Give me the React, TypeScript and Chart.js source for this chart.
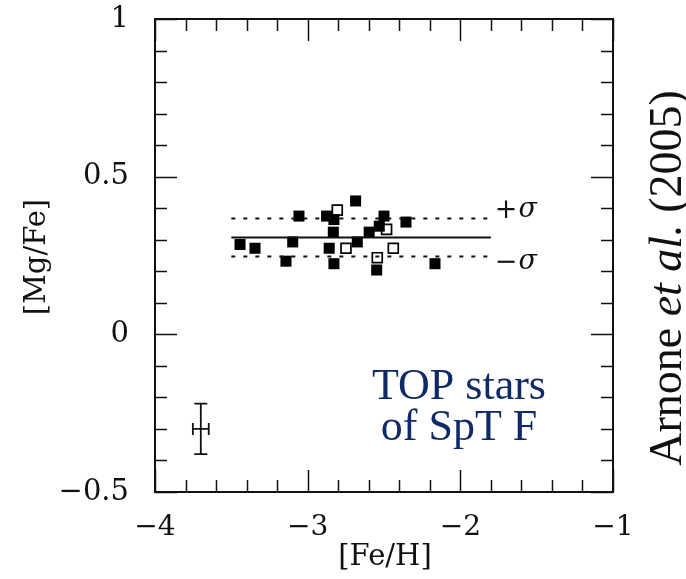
import React, { useEffect, useRef } from "react";
import { Chart, registerables } from "chart.js";

Chart.register(...registerables);

// Filled squares: TOP stars
const feHFilled = [-3.443, -3.345, -3.098, -3.142, -3.057, -2.876, -2.828, -2.832, -2.859, -2.828, -2.686, -2.675, -2.597, -2.531, -2.5, -2.548, -2.356, -2.166];
const mgFeFilled = [0.285, 0.273, 0.293, 0.232, 0.375, 0.375, 0.364, 0.324, 0.273, 0.224, 0.423, 0.293, 0.324, 0.343, 0.375, 0.204, 0.356, 0.224];
// Open squares
const feHOpen = [-2.806, -2.749, -2.483, -2.439, -2.544];
const mgFeOpen = [0.394, 0.273, 0.333, 0.273, 0.243];
// Mean and sigma lines
const fitRange = [-3.5, -1.8];
const meanMgFe = 0.307;
const sigmaMgFe = 0.06;
// Typical error bar
const errPoint = [-3.7, -0.3];
const errSize = [0.052, 0.08];
// Axis ticks
const xMajorTicks = [-4, -3, -2, -1];
const yMajorTicks = [-0.5, 0, 0.5, 1];
const xMinorStep = 0.2;
const yMinorStep = 0.1;
const sigmaLabelX = -1.8;

const SERIF = "'DejaVu Serif', serif";
const TIMES = "'Liberation Serif', serif";

const fmt = (v: number) => {
  const s = String(Math.abs(v));
  return v < 0 ? "\u2212" + s : s;
};

const framePlugin = {
  id: "frame",
  afterDatasetsDraw(chart: any) {
    const { ctx, chartArea: a, scales } = chart;
    const xs = scales.x;
    const ys = scales.y;
    ctx.save();
    ctx.strokeStyle = "#111";
    ctx.lineWidth = 2;
    ctx.strokeRect(a.left, a.top, a.right - a.left, a.bottom - a.top);
    ctx.lineWidth = 1.5;
    const major = 22;
    const minor = 12;
    for (let v = -4; v <= -1 + 1e-9; v += xMinorStep) {
      const isMajor = xMajorTicks.some((t) => Math.abs(t - v) < 1e-6);
      const len = isMajor ? major : minor;
      const px = Math.round(xs.getPixelForValue(v)) + 0.5;
      ctx.beginPath();
      ctx.moveTo(px, a.bottom);
      ctx.lineTo(px, a.bottom - len);
      ctx.moveTo(px, a.top);
      ctx.lineTo(px, a.top + len);
      ctx.stroke();
    }
    for (let v = -0.5; v <= 1 + 1e-9; v += yMinorStep) {
      const isMajor = yMajorTicks.some((t) => Math.abs(t - v) < 1e-6);
      const len = isMajor ? major : minor;
      const py = Math.round(ys.getPixelForValue(v)) + 0.5;
      ctx.beginPath();
      ctx.moveTo(a.left, py);
      ctx.lineTo(a.left + len, py);
      ctx.moveTo(a.right, py);
      ctx.lineTo(a.right - len, py);
      ctx.stroke();
    }
    // error bar
    const cx = xs.getPixelForValue(errPoint[0]);
    const cy = ys.getPixelForValue(errPoint[1]);
    const x0 = xs.getPixelForValue(errPoint[0] - errSize[0]);
    const x1 = xs.getPixelForValue(errPoint[0] + errSize[0]);
    const y0 = ys.getPixelForValue(errPoint[1] + errSize[1]);
    const y1 = ys.getPixelForValue(errPoint[1] - errSize[1]);
    ctx.lineWidth = 1.8;
    ctx.beginPath();
    ctx.moveTo(cx, y0);
    ctx.lineTo(cx, y1);
    ctx.moveTo(x0, cy);
    ctx.lineTo(x1, cy);
    ctx.moveTo(cx - 6.5, y0);
    ctx.lineTo(cx + 6.5, y0);
    ctx.moveTo(cx - 6.5, y1);
    ctx.lineTo(cx + 6.5, y1);
    ctx.moveTo(x0, cy - 6);
    ctx.lineTo(x0, cy + 6);
    ctx.moveTo(x1, cy - 6);
    ctx.lineTo(x1, cy + 6);
    ctx.stroke();
    ctx.restore();
  },
  afterDraw(chart: any) {
    const { ctx, chartArea: a, scales } = chart;
    const xs = scales.x;
    const ys = scales.y;
    ctx.save();
    ctx.fillStyle = "#111";
    const drawSigma = (sign: string, yVal: number) => {
      const px = xs.getPixelForValue(sigmaLabelX) + 4;
      const py = ys.getPixelForValue(yVal);
      ctx.textBaseline = "middle";
      ctx.textAlign = "left";
      ctx.font = `27px ${SERIF}`;
      ctx.fillText(sign, px, py);
      const w = ctx.measureText(sign).width;
      ctx.font = `italic 27px ${SERIF}`;
      ctx.fillText("\u03c3", px + w + 1, py - 1);
    };
    drawSigma("+", meanMgFe + sigmaMgFe + 0.025);
    drawSigma("\u2212", meanMgFe - sigmaMgFe - 0.022);

    // axis titles
    ctx.font = `29px ${SERIF}`;
    ctx.textAlign = "center";
    ctx.textBaseline = "middle";
    ctx.fillText("[Fe/H]", 385, 557);
    ctx.save();
    ctx.translate(37, 257);
    ctx.rotate(-Math.PI / 2);
    ctx.fillText("[Mg/Fe]", 0, 0);
    ctx.restore();

    // annotation
    ctx.fillStyle = "#0f2a66";
    ctx.font = `44px ${TIMES}`;
    ctx.textAlign = "center";
    ctx.textBaseline = "alphabetic";
    ctx.fillText("TOP stars", 459, 399);
    ctx.fillText("of SpT F", 459, 440);

    // rotated citation
    ctx.fillStyle = "#111";
    ctx.save();
    ctx.translate(681, 278);
    ctx.rotate(-Math.PI / 2);
    const parts: [string, string][] = [
      ["Arnone ", `46px ${TIMES}`],
      ["et al.", `italic 46px ${TIMES}`],
      [" (2005)", `46px ${TIMES}`],
    ];
    let total = 0;
    for (const [t, f] of parts) {
      ctx.font = f;
      total += ctx.measureText(t).width;
    }
    let pos = -total / 2;
    ctx.textAlign = "left";
    ctx.textBaseline = "alphabetic";
    for (const [t, f] of parts) {
      ctx.font = f;
      ctx.fillText(t, pos, 0);
      pos += ctx.measureText(t).width;
    }
    ctx.restore();
    ctx.restore();
  },
};

export default function App() {
  const ref = useRef<HTMLCanvasElement | null>(null);
  useEffect(() => {
    if (!ref.current) return;
    const filled = feHFilled.map((x, i) => ({ x, y: mgFeFilled[i] }));
    const open = feHOpen.map((x, i) => ({ x, y: mgFeOpen[i] }));
    const mean = fitRange.map((x) => ({ x, y: meanMgFe }));
    const upper = fitRange.map((x) => ({ x, y: meanMgFe + sigmaMgFe }));
    const lower = fitRange.map((x) => ({ x, y: meanMgFe - sigmaMgFe }));
    const noOverflow = (s: any) => {
      s.paddingTop = 0;
      s.paddingBottom = 0;
      s.paddingLeft = 0;
      s.paddingRight = 0;
    };
    const chart = new Chart(ref.current, {
      type: "scatter",
      data: {
        datasets: [
          { type: "line", data: upper, borderColor: "#111", borderWidth: 2, borderDash: [4, 8], pointRadius: 0, fill: false } as any,
          { type: "line", data: lower, borderColor: "#111", borderWidth: 2, borderDash: [4, 8], pointRadius: 0, fill: false } as any,
          { type: "line", data: mean, borderColor: "#111", borderWidth: 2, pointRadius: 0, fill: false } as any,
          { data: filled, pointStyle: "rect", pointRadius: 7.8, backgroundColor: "#000", borderColor: "#000", borderWidth: 0 },
          { data: open, pointStyle: "rect", pointRadius: 7, backgroundColor: "#fff", borderColor: "#000", borderWidth: 1.7 },
        ],
      },
      options: {
        animation: false,
        responsive: true,
        maintainAspectRatio: false,
        layout: { padding: { top: 19, right: 73, left: 0, bottom: 0 } },
        plugins: { legend: { display: false }, tooltip: { enabled: false } },
        scales: {
          x: {
            type: "linear",
            min: -4,
            max: -1,
            grid: { display: false },
            border: { display: false },
            afterFit: (s: any) => { s.height = 87; noOverflow(s); },
            afterBuildTicks: (s: any) => { s.ticks = xMajorTicks.map((v) => ({ value: v })); },
            ticks: {
              padding: 11,
              color: "#111",
              font: { family: SERIF, size: 28 },
              maxRotation: 0,
              callback: (v: any) => fmt(Number(v)),
            },
          },
          y: {
            type: "linear",
            min: -0.5,
            max: 1,
            grid: { display: false },
            border: { display: false },
            afterFit: (s: any) => { s.width = 155; noOverflow(s); },
            afterBuildTicks: (s: any) => { s.ticks = yMajorTicks.map((v) => ({ value: v })); },
            ticks: {
              padding: 18,
              color: "#111",
              font: { family: SERIF, size: 29 },
              callback: (v: any) => fmt(Number(v)),
            },
          },
        },
      },
      plugins: [framePlugin],
    });
    return () => chart.destroy();
  }, []);
  return (
    <div style={{ position: "fixed", left: 0, top: 0, width: 686, height: 579, background: "#fff" }}>
      <canvas ref={ref} />
    </div>
  );
}
